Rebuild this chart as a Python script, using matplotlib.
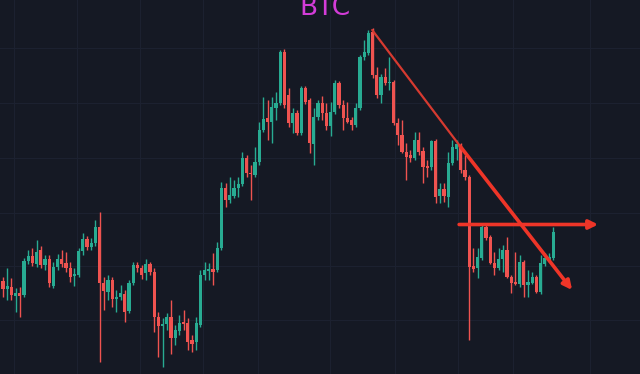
import matplotlib.pyplot as plt
import numpy as np

# BTC candles (price units are arbitrary, higher = up)
opens = [93, 85, 87, 78, 81, 79, 113, 118, 110, 124, 109, 115, 88, 107, 115, 111, 106, 98, 99, 123,
         135, 127, 131, 147, 91, 82, 94, 75, 77, 80, 63, 91, 109, 106, 101, 110, 102, 57, 48, 50,
         57, 36, 43, 52, 51, 34, 32, 49, 99, 103, 105, 104, 126, 186, 174, 178, 186, 190, 216, 201,
         199, 212, 244, 256, 252, 266, 271, 322, 279, 251, 261, 241, 286, 274, 230, 257, 271, 261, 248, 262,
         291, 269, 256, 254, 249, 266, 317, 321, 342, 299, 279, 297, 291, 292, 251, 239, 222, 219, 216, 234,
         223, 208, 207, 233, 178, 185, 177, 211, 225, 229, 204, 197, 108, 106, 116, 147, 137, 111, 106, 115,
         124, 97, 92, 90, 112, 89, 91, 97, 82, 110, 114, 116]
highs = [97, 106, 96, 86, 87, 116, 124, 126, 134, 128, 119, 119, 112, 120, 124, 122, 112, 106, 126, 141,
         138, 136, 154, 162, 97, 99, 97, 84, 89, 84, 94, 112, 112, 109, 115, 112, 106, 62, 56, 61,
         74, 49, 59, 64, 56, 39, 57, 104, 112, 111, 121, 132, 192, 191, 197, 194, 197, 222, 219, 209,
         227, 252, 277, 274, 277, 282, 324, 325, 286, 266, 264, 288, 288, 276, 266, 274, 278, 271, 272, 294,
         293, 274, 272, 257, 271, 319, 334, 344, 346, 307, 300, 306, 317, 294, 256, 254, 231, 224, 242, 242,
         227, 214, 234, 235, 191, 191, 222, 234, 234, 231, 219, 199, 126, 126, 149, 149, 139, 122, 126, 129,
         137, 99, 122, 119, 114, 104, 102, 99, 119, 121, 121, 147]
lows = [77, 74, 74, 62, 57, 77, 110, 108, 107, 106, 104, 87, 86, 104, 107, 102, 92, 88, 97, 119,
        124, 124, 128, 12, 64, 74, 67, 62, 74, 52, 61, 89, 102, 95, 94, 99, 42, 17, 7, 44,
        20, 29, 39, 44, 24, 22, 24, 47, 94, 94, 89, 102, 124, 167, 171, 176, 177, 188, 197, 174,
        197, 209, 242, 234, 231, 254, 269, 266, 247, 241, 239, 239, 270, 221, 209, 254, 254, 244, 238, 260,
        266, 244, 251, 244, 247, 264, 314, 319, 296, 276, 271, 289, 284, 249, 229, 221, 194, 212, 214, 219,
        191, 197, 204, 171, 171, 172, 167, 209, 214, 201, 194, 34, 102, 96, 114, 134, 110, 99, 104, 102,
        96, 81, 89, 87, 77, 77, 90, 81, 80, 108, 112, 114]
closes = [85, 88, 79, 81, 78, 113, 118, 111, 122, 109, 115, 91, 107, 115, 110, 106, 97, 100, 123, 135,
          127, 131, 147, 91, 83, 94, 75, 77, 81, 62, 91, 109, 106, 99, 110, 102, 57, 48, 50, 57,
          36, 44, 51, 50, 32, 30, 51, 99, 104, 105, 102, 126, 186, 174, 179, 186, 190, 216, 201, 200,
          212, 244, 255, 252, 267, 271, 322, 269, 251, 261, 241, 286, 272, 231, 257, 271, 261, 248, 262, 291,
          269, 256, 252, 249, 266, 317, 322, 341, 299, 279, 297, 291, 292, 251, 239, 222, 217, 216, 234, 222,
          207, 206, 233, 177, 185, 178, 211, 227, 230, 204, 197, 107, 105, 117, 147, 136, 111, 106, 115, 124,
          97, 91, 90, 112, 89, 92, 97, 82, 111, 116, 117, 142]

# hand-drawn lines: falling trendline and the horizontal resistance arrow
trend_x = [87.9, 108.8, 135.5]
trend_y = [344, 228, 84]
level_x = [108.6, 141.7]
level_y = [149.5, 149.5]

bg = '#151924'
grid_color = '#1c2130'
up_color = '#28ab92'
down_color = '#ef5350'
line_color = '#ee3528'

fig = plt.figure(figsize=(6.4, 3.74), dpi=100)
fig.set_facecolor(bg)
ax = fig.add_axes([0, 0, 1, 1])
ax.set_facecolor(bg)

o = np.array(opens)
h = np.array(highs)
l = np.array(lows)
c = np.array(closes)
idx = np.arange(len(o))
colors = np.where(c >= o, up_color, down_color)

# wicks then bodies
ax.vlines(idx, l, h, colors=colors, linewidth=1.0, zorder=2)
body = np.where(np.abs(c - o) < 1, 1, c - o)
ax.bar(idx, body, bottom=o, width=0.72, color=colors, linewidth=0, zorder=3)

# trendline: thin from the top, heavier with an arrow after the touch
ax.plot(trend_x[:2], trend_y[:2], color='#d63a30', linewidth=1.6, zorder=4,
        solid_capstyle='round')
ax.annotate('', xy=(trend_x[2], trend_y[2]), xytext=(trend_x[1], trend_y[1]),
            arrowprops=dict(arrowstyle='-|>', color=line_color, lw=2.6,
                            mutation_scale=13, shrinkA=0, shrinkB=0), zorder=5)
ax.annotate('', xy=(level_x[1], level_y[1]), xytext=(level_x[0], level_y[0]),
            arrowprops=dict(arrowstyle='-|>', color=line_color, lw=2.6,
                            mutation_scale=13, shrinkA=0, shrinkB=0), zorder=5)

# faint chart grid
for gx in [14, 77, 140, 203, 258, 330, 395, 458, 513, 590]:
    ax.axvline((gx - 3) / 4.2, color=grid_color, linewidth=0.8, zorder=0)
for gy in [326, 271, 216, 161, 108, 54]:
    ax.axhline(gy, color=grid_color, linewidth=0.8, zorder=0)

ax.set_xlim(-3 / 4.2, 637 / 4.2)
ax.set_ylim(0, 374)
ax.axis('off')

# title sits partly above the top edge, as in the reference
fig.text(325 / 640, 1 - 15 / 374, 'BTC', color='#d33cd8', fontsize=19,
         ha='center', va='baseline')

plt.savefig('out.png', dpi=100, facecolor=bg)
